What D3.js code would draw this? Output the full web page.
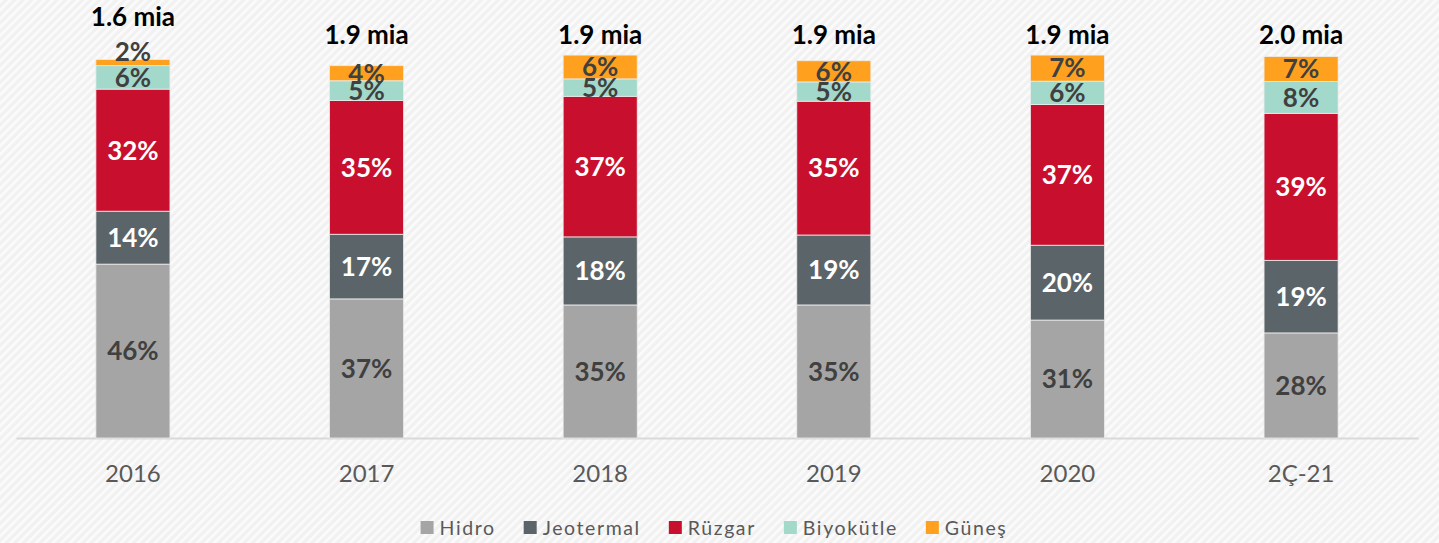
<!DOCTYPE html>
<html><head><meta charset="utf-8">
<script src="https://cdn.jsdelivr.net/npm/d3@7"></script>
<style>
html,body{margin:0;padding:0;background:#f4f4f4;}
svg{display:block;font-family:Lato,"Open Sans",sans-serif;}
</style></head>
<body>
<svg id="chart" width="1439" height="543"></svg>
<script>
const categories = ["2016","2017","2018","2019","2020","2Ç-21"];
const seriesNames = ["Hidro","Jeotermal","Rüzgar","Biyokütle","Güneş"];
const hidro     = [46.0, 36.8, 35.2, 35.2, 31.2, 27.8];
const jeotermal = [14.0, 17.1, 18.0, 18.5, 19.8, 19.2];
const ruzgar    = [32.3, 35.4, 37.2, 35.4, 37.2, 38.9];
const biyokutle = [6.2, 5.2, 4.6, 5.1, 6.2, 8.4];
const gunes     = [1.6, 4.0, 6.3, 5.6, 6.9, 6.6];
const totalLabels = ["1.6 mia","1.9 mia","1.9 mia","1.9 mia","1.9 mia","2.0 mia"];

const seriesValues = [hidro, jeotermal, ruzgar, biyokutle, gunes];
const colors = ["#a5a5a5","#5b6468","#c8102e","#a2d9cb","#ffa11e"];
const labelColors = ["#404040","#ffffff","#ffffff","#404040","#404040"];

const W = 1439, H = 543;
const svg = d3.select("#chart");
const defs = svg.append("defs");
const pat = defs.append("pattern").attr("id","hatch").attr("patternUnits","userSpaceOnUse")
  .attr("width",6).attr("height",6).attr("patternTransform","rotate(45)");
pat.append("rect").attr("width",6).attr("height",6).attr("fill","#f1f1f1");
pat.append("rect").attr("width",2.6).attr("height",6).attr("fill","#fbfbfb");
svg.append("rect").attr("width",W).attr("height",H).attr("fill","url(#hatch)");

const rows = categories.map((c,i)=>{
  const r = {cat:c};
  seriesNames.forEach((s,k)=> r[s] = seriesValues[k][i]);
  return r;
});
const stacked = d3.stack().keys(seriesNames)(rows);

const x = d3.scaleBand().domain(categories).range([16,1418]).paddingInner(0.683).paddingOuter(0.342);
const y = d3.scaleLinear().domain([0,100]).range([438,60]);

// axis
const xAxis = svg.append("g").attr("transform","translate(0,438)")
  .call(d3.axisBottom(x).tickSize(0).tickPadding(27));
xAxis.select(".domain").attr("stroke","#d9d9d9").attr("stroke-width",2);
xAxis.selectAll("text").attr("font-size",24).attr("fill","#595959")
  .attr("font-family","Lato, 'Open Sans', sans-serif");

// bars
const layers = svg.append("g").selectAll("g").data(stacked).join("g")
  .attr("fill",(d,i)=>colors[i]);
layers.selectAll("rect").data(d=>d).join("rect")
  .attr("x",d=>x(d.data.cat))
  .attr("width",x.bandwidth())
  .attr("y",d=>y(d[1]))
  .attr("height",d=>y(d[0])-y(d[1]))
  .attr("stroke","#ececec").attr("stroke-width",0.8);

// segment labels
const overflowTop = {};
stacked.forEach((layer,k)=>{
  layer.forEach((d)=>{
    const y0 = y(d[0]), y1 = y(d[1]);
    const hgt = y0 - y1;
    let cy = (y0+y1)/2;
    if (hgt < 12) { cy = y1 - 8; overflowTop[d.data.cat] = cy - 10; }
    svg.append("text")
      .attr("x", x(d.data.cat)+x.bandwidth()/2)
      .attr("y", cy)
      .attr("dy","0.36em")
      .attr("text-anchor","middle")
      .attr("font-size",26).attr("font-weight",700)
      .attr("fill",labelColors[k])
      .text(d3.format(".0f")(d[1]-d[0])+"%");
  });
});

// total labels
const maxTop = d3.max(stacked[stacked.length-1], d=>d[1]);
categories.forEach((c,i)=>{
  const base = overflowTop[c] !== undefined ? overflowTop[c]-16 : y(maxTop)-11;
  svg.append("text")
    .attr("x", x(c)+x.bandwidth()/2)
    .attr("y", base)
    .attr("text-anchor","middle")
    .attr("font-size",26).attr("font-weight",700).attr("fill","#000")
    .text(totalLabels[i]);
});

// legend
const leg = svg.append("g");
let cx = 0;
seriesNames.forEach((s,k)=>{
  const g = leg.append("g").attr("transform",`translate(${cx},0)`);
  g.append("rect").attr("x",0).attr("y",-7).attr("width",13).attr("height",13).attr("fill",colors[k]);
  const t = g.append("text").attr("x",19).attr("y",7).attr("font-size",19.5)
    .attr("letter-spacing","1.6px").attr("fill","#595959").text(s);
  const w = t.node().getComputedTextLength();
  cx += 19 + w + 28;
});
const legW = cx - 28;
leg.attr("transform",`translate(${714 - legW/2},528)`);
</script>
</body></html>
